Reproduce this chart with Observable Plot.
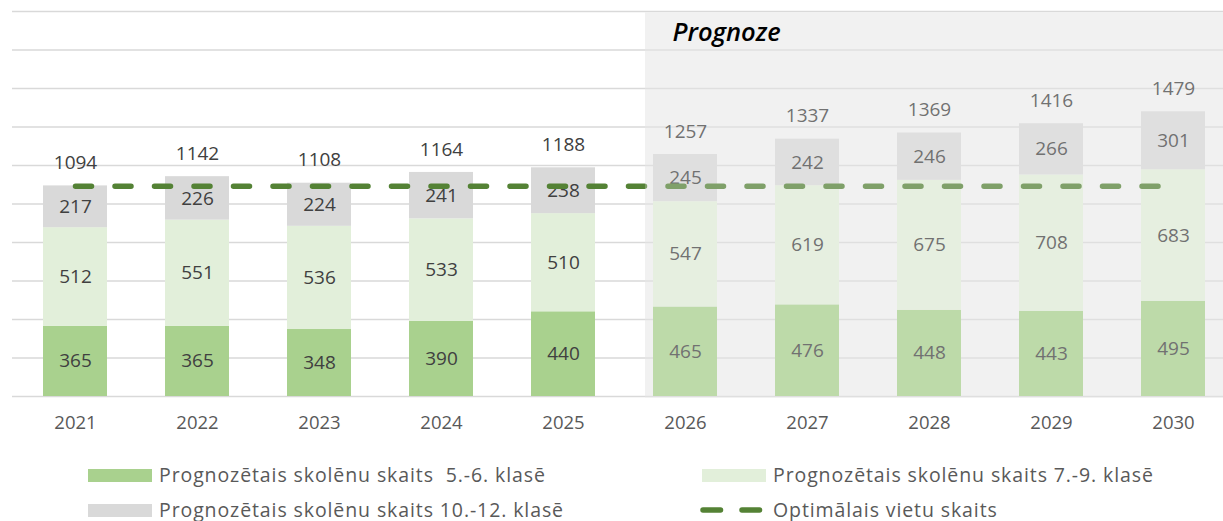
<!DOCTYPE html>
<html>
<head>
<meta charset="utf-8">
<script src="https://cdn.jsdelivr.net/npm/d3@7"></script>
<script src="https://cdn.jsdelivr.net/npm/@observablehq/plot@0.6"></script>
<style>
  html, body { margin: 0; padding: 0; background: #fff; }
  body { width: 1223px; height: 521px; overflow: hidden; font-family: "Open Sans", sans-serif; }
  #chart svg { display: block; }
  .legend { position: relative; height: 75px; font-size: 19.5px; letter-spacing: 0.9px; color: #595959; }
  .item { position: absolute; display: flex; align-items: center; white-space: pre; line-height: 20px; height: 20px; }
  .sw { width: 64px; height: 13px; margin-right: 7px; }
</style>
</head>
<body>
<div id="chart"></div>
<div class="legend" id="legend"></div>
<script>
// ---- data ----
const years = ["2021","2022","2023","2024","2025","2026","2027","2028","2029","2030"];
const grade56 = [365,365,348,390,440,465,476,448,443,495];
const grade79 = [512,551,536,533,510,547,619,675,708,683];
const grade1012 = [217,226,224,241,238,245,242,246,266,301];
const totals = [1094,1142,1108,1164,1188,1257,1337,1369,1416,1479];
const optimalPlaces = 1092;
const forecastFrom = "2026";
const forecastLabel = "Prognoze";
const yTicks = [0,200,400,600,800,1000,1200,1400,1600,1800,2000];
const seriesNames = [
  "Prognozētais skolēnu skaits  5.-6. klasē",
  "Prognozētais skolēnu skaits 7.-9. klasē",
  "Prognozētais skolēnu skaits 10.-12. klasē"
];
const lineName = "Optimālais vietu skaits";
const seriesColors = ["#a9d18e", "#e2efda", "#d9d9d9"];
const lineColor = "#548235";

// ---- build tables ----
const seriesValues = [grade56, grade79, grade1012];
const segments = [];
years.forEach((yr, i) => {
  let base = 0;
  seriesValues.forEach((vals, s) => {
    segments.push({year: yr, series: seriesNames[s], value: vals[i], y1: base, y2: base + vals[i]});
    base += vals[i];
  });
});
const totalRows = years.map((yr, i) => ({year: yr, total: totals[i]}));
const lineRows = years.map(yr => ({year: yr, value: optimalPlaces}));

const font = '"Open Sans", sans-serif';

function forecastRect(fill, opacity) {
  return (index, scales) => {
    const step = scales.x(years[1]) - scales.x(years[0]);
    const x0 = scales.x(forecastFrom) - step * 0.066;
    const x1 = scales.x(years[years.length - 1]) + step;
    const yTop = scales.y(yTicks[yTicks.length - 1]) + 1.5;
    const yBot = scales.y(0) + 1.5;
    const r = document.createElementNS("http://www.w3.org/2000/svg", "rect");
    r.setAttribute("x", x0);
    r.setAttribute("y", yTop);
    r.setAttribute("width", x1 - x0);
    r.setAttribute("height", yBot - yTop);
    r.setAttribute("fill", fill);
    r.setAttribute("fill-opacity", opacity);
    return r;
  };
}

const chart = Plot.plot({
  width: 1223,
  height: 446,
  marginLeft: 12,
  marginRight: -13,
  marginTop: 11,
  marginBottom: 50,
  style: {fontFamily: font, fontSize: "18.5px", color: "#595959", background: "transparent"},
  x: {domain: years, paddingInner: 0.477, paddingOuter: 0.2385, tickSize: 0, tickPadding: 19, label: null},
  y: {domain: [0, 2000], axis: null},
  color: {domain: seriesNames, range: seriesColors},
  marks: [
    forecastRect("#f2f2f2", 1),
    Plot.ruleY(yTicks, {stroke: "#d9d9d9", strokeWidth: 1.5}),
    Plot.barY(segments, {x: "year", y1: "y1", y2: "y2", fill: "series"}),
    Plot.text(segments, {x: "year", y: d => (d.y1 + d.y2) / 2, text: d => String(d.value), fill: "#404040", fontSize: 19}),
    Plot.text(totalRows, {x: "year", y: "total", text: d => String(d.total), dy: -23, fill: "#404040", fontSize: 19}),
    Plot.lineY(lineRows, {x: "year", y: "value", stroke: lineColor, strokeWidth: 5.5, strokeDasharray: "16,23.5", strokeLinecap: "round"}),
    forecastRect("#f2f2f2", 0.28),
    Plot.text([{year: forecastFrom, y: 1890, label: forecastLabel}], {x: "year", y: "y", text: "label", textAnchor: "start", dx: -13, fill: "#000", fontSize: 25.5, fontStyle: "italic", fontWeight: 600})
  ]
});
document.getElementById("chart").appendChild(chart);

// ---- legend ----
const legendItems = [
  {label: seriesNames[0], color: seriesColors[0], left: 88, top: 29},
  {label: seriesNames[1], color: seriesColors[1], left: 702, top: 29},
  {label: seriesNames[2], color: seriesColors[2], left: 88, top: 64},
  {label: lineName, line: true, left: 697, top: 64}
];
const lg = document.getElementById("legend");
legendItems.forEach(it => {
  const div = document.createElement("div");
  div.className = "item";
  div.style.left = it.left + "px";
  div.style.top = (it.top - 10) + "px";
  if (it.line) {
    div.innerHTML = `<svg width="69" height="12" style="margin-right:7px"><line x1="6" y1="6" x2="66" y2="6" stroke="${lineColor}" stroke-width="5.5" stroke-linecap="round" stroke-dasharray="17.5,21.5"/></svg>`;
  } else {
    div.innerHTML = `<span class="sw" style="background:${it.color}"></span>`;
  }
  const t = document.createElement("span");
  t.textContent = it.label;
  div.appendChild(t);
  lg.appendChild(div);
});
</script>
</body>
</html>
